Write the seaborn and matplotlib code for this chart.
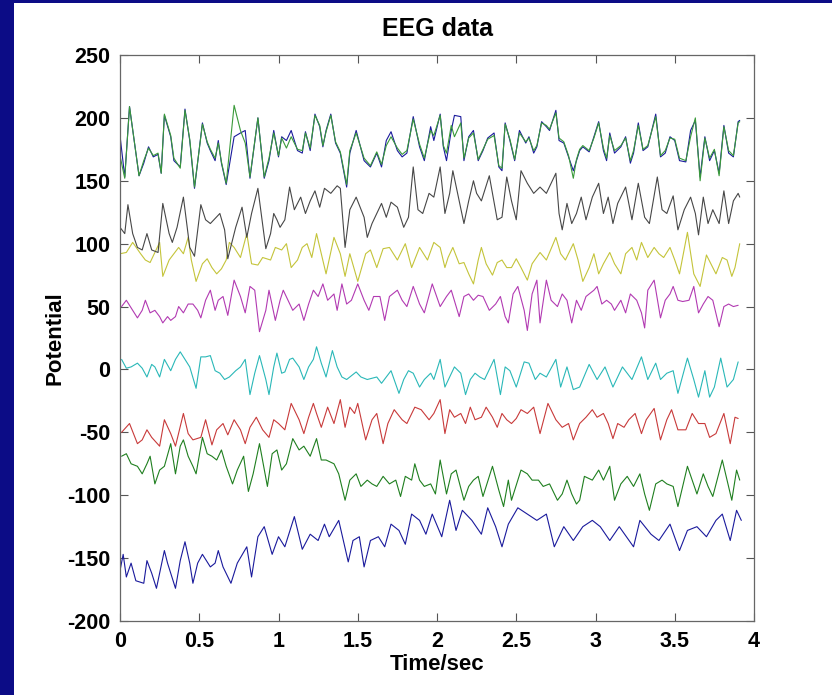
import matplotlib
matplotlib.use("Agg")
import matplotlib.pyplot as plt
import seaborn as sns
import pandas as pd
from matplotlib.patches import Rectangle

sns.set_style("ticks")
plt.rcParams['font.family'] = ['Liberation Sans', 'DejaVu Sans']
plt.rcParams['axes.unicode_minus'] = False
plt.rcParams['text.color'] = 'black'
plt.rcParams['axes.labelcolor'] = 'black'

# ---- data (time in s, potential) ----
x_ticks = [0, 0.5, 1, 1.5, 2, 2.5, 3, 3.5, 4]
x_labels = ["0", "0.5", "1", "1.5", "2", "2.5", "3", "3.5", "4"]
y_ticks = [-200, -150, -100, -50, 0, 50, 100, 150, 200, 250]

t_blue_low = [0.00, 0.02, 0.04, 0.07, 0.10, 0.15, 0.17, 0.20, 0.23, 0.28,
              0.30, 0.35, 0.38, 0.41, 0.44, 0.46, 0.49, 0.52, 0.57, 0.60,
              0.62, 0.65, 0.70, 0.74, 0.80, 0.83, 0.87, 0.91, 0.96, 1.00,
              1.04, 1.10, 1.15, 1.20, 1.25, 1.29, 1.32, 1.38, 1.44, 1.47,
              1.51, 1.54, 1.58, 1.63, 1.67, 1.71, 1.76, 1.80, 1.84, 1.89,
              1.93, 1.97, 2.03, 2.08, 2.12, 2.16, 2.22, 2.28, 2.32, 2.37,
              2.41, 2.45, 2.51, 2.57, 2.63, 2.69, 2.74, 2.80, 2.86, 2.92,
              2.98, 3.03, 3.09, 3.15, 3.24, 3.28, 3.35, 3.40, 3.47, 3.53,
              3.58, 3.64, 3.70, 3.76, 3.80, 3.85, 3.89, 3.92]
v_blue_low = [-160, -147, -165, -154, -168, -170, -152, -162, -174, -144,
              -154, -174, -152, -137, -154, -170, -154, -147, -157, -154,
              -144, -157, -170, -154, -141, -165, -133, -125, -147, -133,
              -141, -117, -143, -131, -136, -123, -133, -120, -153, -136,
              -133, -157, -136, -133, -141, -123, -128, -139, -115, -120,
              -131, -115, -133, -104, -128, -112, -120, -131, -110, -125,
              -141, -123, -110, -115, -120, -115, -141, -125, -136, -125,
              -120, -125, -136, -125, -141, -120, -131, -136, -123, -144,
              -128, -125, -133, -120, -115, -136, -112, -120]

t_dgreen = [0.01, 0.04, 0.07, 0.11, 0.14, 0.17, 0.19, 0.22, 0.25, 0.28,
            0.32, 0.35, 0.38, 0.40, 0.43, 0.46, 0.48, 0.52, 0.55, 0.58,
            0.61, 0.64, 0.67, 0.71, 0.74, 0.78, 0.81, 0.84, 0.88, 0.93,
            0.96, 0.99, 1.02, 1.05, 1.09, 1.13, 1.16, 1.20, 1.24, 1.27,
            1.30, 1.35, 1.38, 1.42, 1.45, 1.49, 1.52, 1.56, 1.59, 1.62,
            1.66, 1.70, 1.74, 1.77, 1.80, 1.84, 1.86, 1.89, 1.92, 1.96,
            1.99, 2.02, 2.06, 2.09, 2.12, 2.17, 2.20, 2.23, 2.26, 2.29,
            2.35, 2.39, 2.42, 2.45, 2.47, 2.53, 2.57, 2.60, 2.64, 2.67,
            2.71, 2.76, 2.79, 2.82, 2.85, 2.88, 2.90, 2.93, 2.98, 3.02,
            3.05, 3.09, 3.12, 3.16, 3.20, 3.24, 3.28, 3.31, 3.34, 3.38,
            3.42, 3.45, 3.49, 3.52, 3.58, 3.61, 3.64, 3.68, 3.71, 3.74,
            3.80, 3.83, 3.86, 3.89, 3.91]
v_dgreen = [-69, -67, -75, -77, -83, -75, -69, -91, -80, -77,
            -59, -83, -61, -56, -69, -77, -83, -54, -67, -69,
            -72, -64, -77, -91, -80, -69, -97, -83, -59, -93,
            -67, -64, -80, -75, -55, -64, -61, -69, -55, -72,
            -72, -75, -83, -104, -88, -83, -93, -88, -91, -93,
            -85, -91, -88, -101, -85, -88, -75, -88, -93, -91,
            -99, -72, -99, -83, -80, -104, -93, -88, -85, -101,
            -77, -96, -109, -88, -104, -80, -83, -88, -88, -93,
            -91, -104, -99, -88, -99, -107, -104, -85, -88, -80,
            -88, -77, -104, -91, -85, -93, -83, -99, -112, -91,
            -88, -91, -93, -109, -77, -88, -99, -83, -93, -101,
            -72, -88, -104, -80, -88]

t_red = [0.01, 0.06, 0.11, 0.14, 0.17, 0.20, 0.25, 0.28, 0.32, 0.35,
         0.40, 0.43, 0.46, 0.51, 0.54, 0.58, 0.61, 0.65, 0.68, 0.72,
         0.76, 0.79, 0.82, 0.86, 0.90, 0.94, 0.97, 1.00, 1.04, 1.08,
         1.13, 1.16, 1.19, 1.22, 1.24, 1.27, 1.31, 1.35, 1.39, 1.42,
         1.45, 1.48, 1.50, 1.55, 1.59, 1.62, 1.66, 1.69, 1.73, 1.78,
         1.81, 1.86, 1.90, 1.95, 1.98, 2.02, 2.05, 2.08, 2.11, 2.15,
         2.18, 2.21, 2.24, 2.28, 2.31, 2.35, 2.38, 2.41, 2.44, 2.47,
         2.50, 2.53, 2.57, 2.61, 2.65, 2.70, 2.75, 2.79, 2.83, 2.86,
         2.90, 2.94, 2.98, 3.01, 3.05, 3.08, 3.11, 3.14, 3.18, 3.21,
         3.25, 3.29, 3.32, 3.37, 3.41, 3.45, 3.48, 3.52, 3.57, 3.61,
         3.65, 3.69, 3.72, 3.76, 3.81, 3.85, 3.88, 3.90]
v_red = [-50, -43, -59, -56, -48, -54, -61, -40, -51, -61,
         -35, -51, -56, -54, -40, -60, -48, -43, -52, -40,
         -48, -59, -46, -38, -48, -54, -40, -43, -48, -27,
         -40, -51, -38, -27, -35, -46, -30, -43, -24, -46,
         -30, -35, -27, -56, -40, -35, -59, -43, -32, -40,
         -43, -30, -32, -40, -35, -24, -51, -32, -38, -35,
         -43, -30, -40, -38, -30, -38, -46, -35, -40, -43,
         -39, -32, -35, -30, -51, -27, -40, -46, -43, -56,
         -43, -38, -32, -38, -35, -43, -55, -43, -46, -40,
         -35, -51, -40, -31, -56, -40, -32, -48, -48, -35,
         -43, -43, -54, -51, -35, -59, -38, -39]

t_cyan = [0.01, 0.04, 0.07, 0.11, 0.14, 0.17, 0.20, 0.22, 0.25, 0.28,
          0.32, 0.35, 0.38, 0.41, 0.44, 0.48, 0.51, 0.54, 0.57, 0.60,
          0.63, 0.66, 0.69, 0.73, 0.76, 0.79, 0.82, 0.85, 0.88, 0.92,
          0.94, 0.97, 0.99, 1.02, 1.04, 1.07, 1.09, 1.13, 1.16, 1.19,
          1.22, 1.24, 1.27, 1.30, 1.34, 1.37, 1.40, 1.43, 1.46, 1.49,
          1.52, 1.56, 1.59, 1.62, 1.65, 1.68, 1.71, 1.76, 1.79, 1.82,
          1.85, 1.89, 1.92, 1.96, 1.98, 2.02, 2.05, 2.08, 2.11, 2.15,
          2.18, 2.21, 2.24, 2.27, 2.30, 2.36, 2.40, 2.43, 2.46, 2.50,
          2.55, 2.58, 2.62, 2.65, 2.69, 2.75, 2.78, 2.82, 2.86, 2.90,
          2.96, 3.01, 3.06, 3.11, 3.17, 3.23, 3.29, 3.33, 3.38, 3.41,
          3.45, 3.49, 3.52, 3.58, 3.62, 3.65, 3.69, 3.72, 3.75, 3.79,
          3.83, 3.87, 3.90]
v_cyan = [8, 1, 2, 5, 1, -6, 4, 2, -6, 8,
          -1, 8, 14, 8, 2, -15, 10, 10, 11, -1,
          -3, -8, -6, -1, 2, 8, -20, -3, 11, -8,
          -20, 2, 13, -3, -2, 8, 9, 2, -8, 2,
          8, 18, 5, -6, 15, 2, -6, -8, -5, -2,
          -6, -8, -7, -6, -11, -6, -1, -19, -8, -1,
          -3, -14, -8, -3, -8, 8, -14, -6, 2, -3,
          -20, -8, -3, -6, -8, 8, -20, 2, -1, -14,
          6, 5, -8, -3, -6, 8, -14, 2, -16, -14,
          4, -8, 2, -14, 2, -8, 10, -8, 5, -8,
          -3, -1, -19, 9, -8, -22, -1, -22, -14, 9,
          -14, -8, 6]

t_magenta = [0.01, 0.04, 0.07, 0.11, 0.14, 0.16, 0.19, 0.22, 0.25, 0.27,
             0.30, 0.32, 0.35, 0.37, 0.40, 0.43, 0.46, 0.49, 0.51, 0.54,
             0.57, 0.60, 0.62, 0.65, 0.68, 0.72, 0.76, 0.79, 0.82, 0.85,
             0.88, 0.92, 0.94, 0.98, 1.01, 1.03, 1.06, 1.09, 1.13, 1.16,
             1.19, 1.22, 1.25, 1.28, 1.31, 1.35, 1.37, 1.40, 1.43, 1.46,
             1.50, 1.54, 1.57, 1.60, 1.64, 1.67, 1.70, 1.75, 1.78, 1.81,
             1.85, 1.89, 1.92, 1.97, 2.02, 2.06, 2.09, 2.14, 2.17, 2.20,
             2.23, 2.26, 2.29, 2.33, 2.37, 2.40, 2.43, 2.45, 2.48, 2.51,
             2.55, 2.57, 2.60, 2.63, 2.65, 2.69, 2.72, 2.76, 2.79, 2.82,
             2.85, 2.88, 2.91, 2.94, 2.99, 3.01, 3.04, 3.07, 3.10, 3.12,
             3.16, 3.19, 3.22, 3.26, 3.29, 3.31, 3.33, 3.37, 3.41, 3.44,
             3.47, 3.49, 3.52, 3.55, 3.59, 3.62, 3.65, 3.68, 3.71, 3.74,
             3.78, 3.81, 3.84, 3.87, 3.90]
v_magenta = [50, 55, 49, 41, 47, 55, 45, 47, 42, 37,
             42, 39, 42, 50, 45, 52, 52, 47, 41, 55,
             63, 47, 55, 58, 43, 71, 58, 45, 66, 63,
             30, 47, 63, 39, 55, 63, 55, 47, 52, 39,
             52, 63, 58, 68, 55, 60, 47, 68, 52, 55,
             68, 55, 47, 58, 58, 39, 58, 63, 55, 50,
             66, 52, 45, 68, 50, 58, 63, 42, 58, 60,
             55, 59, 58, 47, 52, 58, 42, 37, 60, 66,
             47, 31, 60, 71, 37, 71, 55, 50, 60, 55,
             37, 55, 47, 58, 63, 66, 52, 55, 52, 47,
             55, 45, 60, 55, 45, 33, 63, 71, 41, 55,
             60, 66, 55, 54, 55, 66, 45, 52, 58, 55,
             34, 50, 52, 50, 51]

t_yellow = [0.00, 0.04, 0.08, 0.13, 0.16, 0.19, 0.22, 0.25, 0.27, 0.31,
            0.34, 0.37, 0.40, 0.43, 0.45, 0.48, 0.52, 0.55, 0.58, 0.61,
            0.64, 0.67, 0.69, 0.72, 0.76, 0.80, 0.83, 0.87, 0.90, 0.95,
            0.98, 1.02, 1.05, 1.08, 1.12, 1.15, 1.18, 1.21, 1.24, 1.27,
            1.30, 1.35, 1.39, 1.42, 1.45, 1.50, 1.55, 1.58, 1.62, 1.66,
            1.70, 1.75, 1.80, 1.84, 1.89, 1.94, 1.98, 2.02, 2.05, 2.07,
            2.10, 2.14, 2.17, 2.20, 2.23, 2.26, 2.28, 2.31, 2.35, 2.38,
            2.41, 2.44, 2.47, 2.50, 2.53, 2.57, 2.60, 2.65, 2.69, 2.75,
            2.78, 2.81, 2.86, 2.89, 2.92, 2.96, 2.99, 3.02, 3.05, 3.09,
            3.12, 3.16, 3.19, 3.23, 3.26, 3.29, 3.33, 3.37, 3.40, 3.43,
            3.47, 3.50, 3.53, 3.58, 3.62, 3.66, 3.70, 3.74, 3.76, 3.80,
            3.83, 3.86, 3.88, 3.91]
v_yellow = [92, 93, 101, 92, 87, 85, 93, 101, 74, 87,
            92, 97, 92, 105, 87, 70, 84, 88, 81, 76,
            80, 87, 101, 97, 89, 108, 84, 83, 89, 87,
            97, 95, 100, 81, 87, 97, 100, 89, 108, 92,
            76, 105, 92, 74, 92, 70, 92, 95, 81, 96,
            97, 87, 100, 81, 97, 87, 101, 97, 81, 89,
            97, 84, 85, 76, 68, 87, 97, 84, 75, 85,
            87, 81, 81, 88, 81, 71, 84, 93, 87, 105,
            92, 87, 100, 87, 70, 81, 92, 76, 84, 93,
            84, 76, 92, 97, 87, 101, 89, 97, 92, 89,
            97, 87, 76, 109, 76, 66, 91, 81, 76, 89,
            87, 74, 81, 100]

t_gray = [0.00, 0.03, 0.05, 0.08, 0.11, 0.14, 0.17, 0.20, 0.24, 0.27,
          0.31, 0.33, 0.36, 0.40, 0.44, 0.47, 0.51, 0.54, 0.57, 0.60,
          0.63, 0.66, 0.68, 0.73, 0.77, 0.80, 0.83, 0.87, 0.92, 0.95,
          0.97, 0.99, 1.01, 1.04, 1.07, 1.10, 1.14, 1.17, 1.20, 1.23,
          1.26, 1.29, 1.33, 1.37, 1.39, 1.42, 1.45, 1.49, 1.54, 1.56,
          1.59, 1.62, 1.65, 1.68, 1.71, 1.75, 1.79, 1.82, 1.85, 1.88,
          1.91, 1.95, 1.98, 2.02, 2.05, 2.08, 2.10, 2.14, 2.17, 2.20,
          2.23, 2.25, 2.28, 2.33, 2.38, 2.41, 2.44, 2.47, 2.50, 2.53,
          2.57, 2.61, 2.65, 2.69, 2.75, 2.77, 2.79, 2.82, 2.85, 2.88,
          2.91, 2.94, 2.98, 3.02, 3.05, 3.08, 3.11, 3.14, 3.19, 3.23,
          3.27, 3.31, 3.34, 3.39, 3.42, 3.45, 3.49, 3.52, 3.56, 3.60,
          3.63, 3.65, 3.68, 3.71, 3.74, 3.78, 3.81, 3.84, 3.87, 3.90,
          3.91]
v_gray = [113, 108, 131, 108, 97, 95, 108, 95, 93, 132,
          108, 101, 113, 137, 97, 90, 131, 119, 116, 120,
          124, 111, 88, 113, 129, 105, 124, 144, 96, 108,
          124, 119, 113, 119, 145, 127, 137, 124, 134, 142,
          129, 144, 140, 146, 144, 97, 127, 137, 121, 105,
          116, 124, 132, 121, 133, 129, 113, 121, 161, 127,
          124, 140, 137, 161, 124, 140, 158, 134, 116, 134,
          150, 140, 134, 154, 119, 121, 153, 134, 119, 158,
          148, 140, 145, 140, 156, 124, 111, 132, 116, 124,
          137, 119, 137, 148, 124, 137, 116, 132, 145, 119,
          148, 121, 116, 153, 127, 124, 138, 111, 127, 137,
          124, 107, 137, 116, 127, 116, 142, 116, 134, 140,
          137]

# the two top channels share the same time stamps
t_top = [0.00, 0.03, 0.06, 0.12, 0.15, 0.18, 0.21, 0.24, 0.26, 0.28,
         0.32, 0.34, 0.38, 0.41, 0.44, 0.47, 0.52, 0.55, 0.57, 0.60,
         0.62, 0.64, 0.67, 0.72, 0.76, 0.79, 0.82, 0.87, 0.91, 0.94,
         0.97, 1.00, 1.02, 1.05, 1.08, 1.12, 1.15, 1.17, 1.20, 1.23,
         1.26, 1.28, 1.30, 1.33, 1.36, 1.39, 1.43, 1.45, 1.49, 1.54,
         1.58, 1.62, 1.65, 1.68, 1.71, 1.75, 1.78, 1.81, 1.85, 1.89,
         1.92, 1.96, 1.98, 2.02, 2.04, 2.06, 2.09, 2.11, 2.15, 2.17,
         2.20, 2.23, 2.26, 2.29, 2.32, 2.36, 2.39, 2.41, 2.43, 2.46,
         2.49, 2.52, 2.56, 2.58, 2.61, 2.63, 2.66, 2.69, 2.71, 2.75,
         2.77, 2.80, 2.83, 2.86, 2.88, 2.90, 2.92, 2.96, 2.99, 3.02,
         3.05, 3.07, 3.09, 3.12, 3.16, 3.19, 3.22, 3.24, 3.27, 3.30,
         3.33, 3.38, 3.41, 3.44, 3.47, 3.50, 3.53, 3.57, 3.60, 3.63,
         3.66, 3.69, 3.72, 3.75, 3.78, 3.81, 3.84, 3.87, 3.90, 3.91]
v_blue_top = [186, 153, 209, 154, 164, 177, 169, 171, 156, 202,
              185, 166, 161, 207, 182, 144, 196, 180, 174, 166,
              182, 164, 147, 185, 188, 190, 152, 200, 152, 166,
              190, 169, 185, 182, 190, 174, 172, 189, 174, 203,
              193, 177, 190, 203, 180, 172, 145, 172, 190, 166,
              161, 172, 161, 182, 189, 174, 169, 172, 201, 177,
              166, 193, 182, 203, 177, 166, 190, 202, 201, 166,
              185, 190, 166, 174, 184, 188, 161, 158, 196, 182,
              166, 190, 180, 185, 172, 177, 197, 193, 190, 206,
              182, 180, 169, 158, 166, 174, 177, 173, 185, 197,
              174, 166, 188, 172, 177, 185, 164, 172, 196, 174,
              177, 203, 169, 172, 185, 182, 166, 165, 190, 198,
              153, 185, 166, 174, 156, 194, 172, 169, 197, 198]
v_green_top = [170, 152, 209, 154, 166, 176, 170, 172, 156, 203,
               186, 168, 160, 206, 183, 145, 195, 181, 175, 168,
               180, 165, 148, 210, 190, 180, 153, 200, 153, 168,
               188, 170, 184, 176, 185, 175, 174, 188, 176, 202,
               194, 178, 189, 202, 181, 173, 147, 174, 188, 168,
               162, 173, 163, 178, 185, 176, 171, 174, 199, 179,
               168, 190, 186, 202, 178, 172, 194, 185, 196, 168,
               184, 188, 167, 175, 183, 186, 162, 160, 195, 183,
               167, 188, 181, 184, 174, 178, 196, 194, 191, 204,
               184, 181, 170, 152, 167, 175, 178, 174, 184, 196,
               176, 168, 186, 174, 178, 184, 166, 174, 194, 175,
               178, 201, 170, 174, 184, 183, 168, 166, 185, 200,
               150, 184, 168, 175, 154, 193, 174, 170, 196, 197]

channels = ["ch1", "ch2", "ch3", "ch4", "ch5", "ch6", "ch7", "ch8", "ch9"]
times = [t_blue_low, t_dgreen, t_red, t_cyan, t_magenta, t_yellow, t_gray, t_top, t_top]
values = [v_blue_low, v_dgreen, v_red, v_cyan, v_magenta, v_yellow, v_gray, v_blue_top, v_green_top]
colors = ["#1a1a9c", "#1f7f1f", "#c83a3a", "#2ab8b8", "#b23ab2", "#c4c43a", "#474747", "#1a1a9c", "#3a9a3a"]

frames = []
for ch, t, v in zip(channels, times, values):
    frames.append(pd.DataFrame({"t": t, "v": v, "ch": ch}))
df = pd.concat(frames, ignore_index=True)

fig = plt.figure(figsize=(8.32, 6.95), dpi=100)
fig.patch.set_facecolor("white")
# blue slide frame on the left and top edge
fig.patches.append(Rectangle((0, 0), 14 / 832, 1, transform=fig.transFigure,
                             facecolor="#0c0c86", edgecolor="none", zorder=0))
fig.patches.append(Rectangle((0, 1 - 3 / 695), 1, 3 / 695, transform=fig.transFigure,
                             facecolor="#0c0c86", edgecolor="none", zorder=0))

ax = fig.add_axes([120 / 832, 1 - 621 / 695, 634 / 832, 566 / 695])
sns.lineplot(data=df, x="t", y="v", hue="ch", hue_order=channels,
             palette=dict(zip(channels, colors)), estimator=None, sort=False,
             legend=False, linewidth=0.8, ax=ax)

ax.set_xlim(0, 4)
ax.set_ylim(-200, 250)
ax.set_xticks(x_ticks)
ax.set_xticklabels(x_labels)
ax.set_yticks(y_ticks)
ax.tick_params(direction="in", top=True, right=True, length=6, width=0.8,
               color="#555555", labelcolor="black", labelsize=15.5, pad=7)
for lab in ax.get_xticklabels() + ax.get_yticklabels():
    lab.set_fontweight("bold")
for s in ax.spines.values():
    s.set_color("#666666")
    s.set_linewidth(0.9)

ax.set_title("EEG data", fontsize=18, fontweight="bold", color="black", pad=14)
ax.set_xlabel("Time/sec", fontsize=16, fontweight="bold", labelpad=2)
ax.set_ylabel("Potential", fontsize=16, fontweight="bold", labelpad=1)

fig.savefig("out.png", dpi=100)
